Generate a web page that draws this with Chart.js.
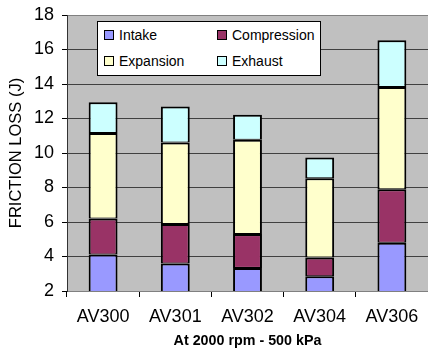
<!DOCTYPE html>
<html>
<head>
<meta charset="utf-8">
<script src="https://cdn.jsdelivr.net/npm/chart.js@4/dist/chart.umd.min.js"></script>
<style>
  html, body { margin: 0; padding: 0; background: #fff; }
  #wrap { position: relative; width: 428px; height: 351px; overflow: hidden; }
  #legend { position: absolute; left: 97px; top: 21px; width: 222px; height: 53px;
    background: #fff; border: 1px solid #000; font-family: "Liberation Sans", Arial, sans-serif;
    font-size: 14px; color: #000; }
  .item { position: absolute; display: flex; align-items: center; height: 16px; }
  .sw { width: 8px; height: 8px; border: 1px solid #000; margin-right: 5px; }
</style>
</head>
<body>
<div id="wrap">
  <canvas id="c" width="428" height="351"></canvas>
  <div id="legend"></div>
</div>
<script>
const categories = ["AV300", "AV301", "AV302", "AV304", "AV306"];
const intake      = [4.12, 3.59, 3.34, 2.86, 4.79];
const compression = [2.09, 2.29, 1.96, 1.08, 3.11];
const expansion   = [4.95, 4.73, 5.47, 4.60, 5.93];
const exhaust     = [1.78, 2.09, 1.45, 1.20, 2.71];
const seriesNames = ["Intake", "Compression", "Expansion", "Exhaust"];
const seriesColors = ["#9999FF", "#993366", "#FFFFCC", "#CCFFFF"];
const yTitle = "FRICTION LOSS (J)";
const xTitle = "At 2000 rpm - 500 kPa";

const FONT = '"Liberation Sans", Arial, sans-serif';
const seriesData = [intake, compression, expansion, exhaust];
const datasets = seriesData.map((d, i) => ({
  label: seriesNames[i],
  data: d,
  backgroundColor: seriesColors[i],
  borderColor: "#000",
  borderWidth: {top: 2, bottom: 1, left: 2, right: 2},
  borderSkipped: false,
  barPercentage: 0.4,
  categoryPercentage: 1.0
}));

const bgPlugin = {
  id: "plotbg",
  beforeDraw(chart) {
    const a = chart.chartArea, ctx = chart.ctx;
    ctx.save();
    ctx.fillStyle = "#C0C0C0";
    ctx.fillRect(a.left, a.top, a.right - a.left, a.bottom - a.top);
    ctx.restore();
  }
};

new Chart(document.getElementById("c"), {
  type: "bar",
  data: { labels: categories, datasets },
  plugins: [bgPlugin],
  options: {
    responsive: false,
    animation: false,
    layout: { padding: { top: 15, right: -3, left: 0, bottom: 0 } },
    plugins: { legend: { display: false }, tooltip: { enabled: false } },
    scales: {
      x: {
        stacked: true,
        grid: { offset: true, drawOnChartArea: false, drawTicks: true, tickLength: 6, color: "#000" },
        border: { display: true, color: "#808080", width: 1 },
        ticks: { color: "#000", font: { family: FONT, size: 18 }, padding: 9, maxRotation: 0 },
        title: { display: true, text: xTitle, color: "#000", font: { family: FONT, size: 14.3, weight: "bold" }, padding: { top: 0, bottom: 1 } },
        afterFit(s) { s.height = 60; s.paddingLeft = 0; s.paddingRight = 0; }
      },
      y: {
        stacked: true,
        min: 2, max: 18,
        ticks: { stepSize: 2, color: "#000", font: { family: FONT, size: 18 }, padding: 8 },
        grid: {
          color: (c) => (c.tick && (c.tick.value === 18 || c.tick.value === 2)) ? "#808080" : "#404040",
          tickColor: "#000", tickLength: 5, lineWidth: 1
        },
        border: { display: true, color: "#333", width: 1 },
        title: { display: true, text: yTitle, color: "#000", font: { family: FONT, size: 16.5 }, padding: { top: 7, bottom: 0 } },
        afterFit(s) { s.width = 67; s.paddingTop = 0; s.paddingBottom = 0; }
      }
    }
  }
});

// HTML legend built from the series arrays
const leg = document.getElementById("legend");
const pos = [[6, 5], [119, 5], [6, 31], [119, 31]];
seriesNames.forEach((n, i) => {
  const it = document.createElement("div");
  it.className = "item";
  it.style.left = pos[i][0] + "px";
  it.style.top = pos[i][1] + "px";
  const sw = document.createElement("span");
  sw.className = "sw";
  sw.style.background = seriesColors[i];
  const tx = document.createElement("span");
  tx.textContent = n;
  it.appendChild(sw); it.appendChild(tx);
  leg.appendChild(it);
});
</script>
</body>
</html>
